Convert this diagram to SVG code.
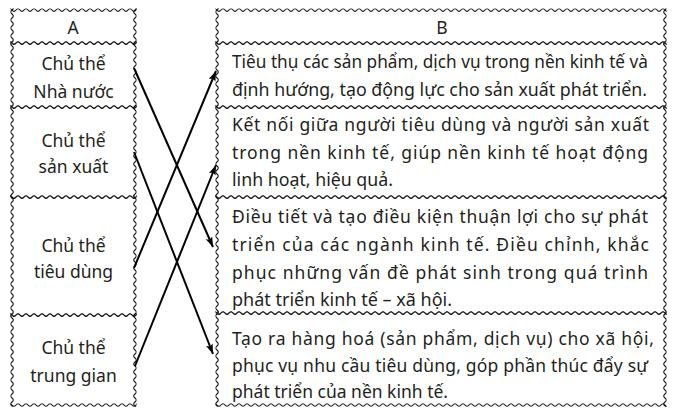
<svg xmlns="http://www.w3.org/2000/svg" xmlns:xlink="http://www.w3.org/1999/xlink" width="675" height="413" viewBox="0 0 675 413">
<style>
.wv{fill:none;stroke:#1a1a1a;stroke-width:1.15}
.t{font-family:"Noto Sans","Open Sans","DejaVu Sans",sans-serif;font-size:17.5px;fill:#231f20}
.c{text-anchor:middle}
.ar{fill:none;stroke:#000;stroke-width:2}
</style>
<defs>
<g id="w40"><path class="wv" d="M0,0 q2,-2.6 4,0 t4,0 t4,0 t4,0 t4,0 t4,0 t4,0 t4,0 t4,0 t4,0"/></g>
<g id="w200"><use href="#w40"/><use href="#w40" x="40"/><use href="#w40" x="80"/><use href="#w40" x="120"/><use href="#w40" x="160"/></g>
<g id="w600"><use href="#w200"/><use href="#w200" x="200"/><use href="#w200" x="400"/></g>
<marker id="ah" markerUnits="userSpaceOnUse" markerWidth="11" markerHeight="8" refX="10" refY="3.5" orient="auto"><path d="M0,0 L10,3.5 L0,7 L2,3.5 z" fill="#000"/></marker>
<clipPath id="cA0"><rect x="10.3" y="8.3" width="126.4" height="36.4"/></clipPath>
<clipPath id="cA1"><rect x="10.3" y="41.3" width="126.4" height="67.4"/></clipPath>
<clipPath id="cA2"><rect x="10.3" y="105.3" width="126.4" height="93.4"/></clipPath>
<clipPath id="cA3"><rect x="10.3" y="195.3" width="126.4" height="121.4"/></clipPath>
<clipPath id="cA4"><rect x="10.3" y="313.3" width="126.4" height="93.4"/></clipPath>
<clipPath id="cB0"><rect x="215.3" y="8.3" width="451.4" height="36.4"/></clipPath>
<clipPath id="cB1"><rect x="215.3" y="41.3" width="451.4" height="67.4"/></clipPath>
<clipPath id="cB2"><rect x="215.3" y="105.3" width="451.4" height="93.4"/></clipPath>
<clipPath id="cB3"><rect x="215.3" y="195.3" width="451.4" height="119.4"/></clipPath>
<clipPath id="cB4"><rect x="215.3" y="311.3" width="451.4" height="95.4"/></clipPath>
</defs>
<rect width="675" height="413" fill="#fff"/>

<g id="headA">
<g clip-path="url(#cA0)"><use href="#w600" x="8" y="10"/><use href="#w600" x="8" y="43"/><use href="#w600" transform="translate(12,6) rotate(90)"/><use href="#w600" transform="translate(135,6) rotate(90)"/></g>
<text class="t c" x="73" y="34">A</text>
</g>
<g id="a1">
<g clip-path="url(#cA1)"><use href="#w600" x="8" y="43"/><use href="#w600" x="8" y="107"/><use href="#w600" transform="translate(12,6) rotate(90)"/><use href="#w600" transform="translate(135,6) rotate(90)"/></g>
<text class="t c" x="73.5" y="70">Chủ thể</text>
<text class="t c" x="73.5" y="98">Nhà nước</text>
</g>
<g id="a2">
<g clip-path="url(#cA2)"><use href="#w600" x="8" y="107"/><use href="#w600" x="8" y="197"/><use href="#w600" transform="translate(12,6) rotate(90)"/><use href="#w600" transform="translate(135,6) rotate(90)"/></g>
<text class="t c" x="73.5" y="147">Chủ thể</text>
<text class="t c" x="73.5" y="173">sản xuất</text>
</g>
<g id="a3">
<g clip-path="url(#cA3)"><use href="#w600" x="8" y="197"/><use href="#w600" x="8" y="315"/><use href="#w600" transform="translate(12,6) rotate(90)"/><use href="#w600" transform="translate(135,6) rotate(90)"/></g>
<text class="t c" x="73.5" y="252">Chủ thể</text>
<text class="t c" x="73.5" y="278">tiêu dùng</text>
</g>
<g id="a4">
<g clip-path="url(#cA4)"><use href="#w600" x="8" y="315"/><use href="#w600" x="8" y="405"/><use href="#w600" transform="translate(12,6) rotate(90)"/><use href="#w600" transform="translate(135,6) rotate(90)"/></g>
<text class="t c" x="73.5" y="354">Chủ thể</text>
<text class="t c" x="73.5" y="382">trung gian</text>
</g>

<g id="headB">
<g clip-path="url(#cB0)"><use href="#w600" x="213" y="10"/><use href="#w600" x="213" y="43"/><use href="#w600" transform="translate(217,6) rotate(90)"/><use href="#w600" transform="translate(665,6) rotate(90)"/></g>
<text class="t c" x="442" y="34">B</text>
</g>
<g id="b1">
<g clip-path="url(#cB1)"><use href="#w600" x="213" y="43"/><use href="#w600" x="213" y="107"/><use href="#w600" transform="translate(217,6) rotate(90)"/><use href="#w600" transform="translate(665,6) rotate(90)"/></g>
<text class="t" x="232" y="68" textLength="416" lengthAdjust="spacingAndGlyphs">Tiêu thụ các sản phẩm, dịch vụ trong nền kinh tế và</text>
<text class="t" x="232" y="96" textLength="415" lengthAdjust="spacingAndGlyphs">định hướng, tạo động lực cho sản xuất phát triển.</text>
</g>
<g id="b2">
<g clip-path="url(#cB2)"><use href="#w600" x="213" y="107"/><use href="#w600" x="213" y="197"/><use href="#w600" transform="translate(217,6) rotate(90)"/><use href="#w600" transform="translate(665,6) rotate(90)"/></g>
<text class="t" x="232" y="131" textLength="417" lengthAdjust="spacing">Kết nối giữa người tiêu dùng và người sản xuất</text>
<text class="t" x="232" y="159" textLength="416" lengthAdjust="spacing">trong nền kinh tế, giúp nền kinh tế hoạt động</text>
<text class="t" x="232" y="186" textLength="161" lengthAdjust="spacingAndGlyphs">linh hoạt, hiệu quả.</text>
</g>
<g id="b3">
<g clip-path="url(#cB3)"><use href="#w600" x="213" y="197"/><use href="#w600" x="213" y="313"/><use href="#w600" transform="translate(217,6) rotate(90)"/><use href="#w600" transform="translate(665,6) rotate(90)"/></g>
<text class="t" x="232" y="223" textLength="416" lengthAdjust="spacing">Điều tiết và tạo điều kiện thuận lợi cho sự phát</text>
<text class="t" x="232" y="251" textLength="417" lengthAdjust="spacing">triển của các ngành kinh tế. Điều chỉnh, khắc</text>
<text class="t" x="232" y="279" textLength="416" lengthAdjust="spacing">phục những vấn đề phát sinh trong quá trình</text>
<text class="t" x="232" y="306" textLength="220" lengthAdjust="spacingAndGlyphs">phát triển kinh tế – xã hội.</text>
</g>
<g id="b4">
<g clip-path="url(#cB4)"><use href="#w600" x="213" y="313"/><use href="#w600" x="213" y="405"/><use href="#w600" transform="translate(217,6) rotate(90)"/><use href="#w600" transform="translate(665,6) rotate(90)"/></g>
<text class="t" x="232" y="345" textLength="422" lengthAdjust="spacing">Tạo ra hàng hoá (sản phẩm, dịch vụ) cho xã hội,</text>
<text class="t" x="232" y="372" textLength="416" lengthAdjust="spacing">phục vụ nhu cầu tiêu dùng, góp phần thúc đẩy sự</text>
<text class="t" x="232" y="398" textLength="216" lengthAdjust="spacingAndGlyphs">phát triển của nền kinh tế.</text>
</g>

<g id="connectors">
<line class="ar" x1="134" y1="68" x2="213" y2="247" marker-end="url(#ah)"/>
<line class="ar" x1="134" y1="152" x2="213" y2="354" marker-end="url(#ah)"/>
<line class="ar" x1="134" y1="268" x2="216" y2="71" marker-end="url(#ah)"/>
<line class="ar" x1="135" y1="366" x2="216" y2="165" marker-end="url(#ah)"/>
</g>
</svg>
